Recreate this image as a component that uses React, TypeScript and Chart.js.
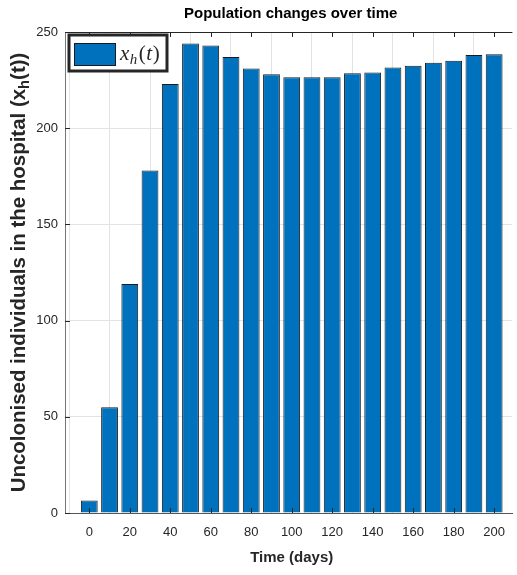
import React, { useEffect, useRef } from "react";
import { Chart, registerables } from "chart.js";

Chart.register(...registerables);

const times: number[] = [0, 10, 20, 30, 40, 50, 60, 70, 80, 90, 100, 110, 120, 130, 140, 150, 160, 170, 180, 190, 200];
const uncolonised: number[] = [6.5, 55, 119, 178, 223, 244, 243, 237, 231, 228, 226.5, 226.5, 226.5, 228.5, 229, 231.5, 232.5, 234, 235, 238, 238.5];
const xTickValues: number[] = [0, 20, 40, 60, 80, 100, 120, 140, 160, 180, 200];
const yTickValues: number[] = [0, 50, 100, 150, 200, 250];

const titleText = "Population changes over time";
const xTitleText = "Time (days)";
const yTitleMain = "Uncolonised individuals in the hospital (x";
const yTitleSub = "h";
const yTitleEnd = "(t))";

const BAR_COLOR = "#0072BD";
const TEXT_COLOR = "#262626";

const decorPlugin = {
  id: "decor",
  afterDatasetsDraw(chart: any) {
    const { ctx, chartArea } = chart;
    const { left, right, top, bottom } = chartArea;
    const xs = chart.scales.x;
    const ys = chart.scales.y;
    ctx.save();
    // frame top line
    ctx.strokeStyle = "#262626";
    ctx.lineWidth = 1;
    ctx.beginPath();
    ctx.moveTo(left, top + 0.5);
    ctx.lineTo(right, top + 0.5);
    ctx.stroke();
    // inward tick marks
    xTickValues.forEach((v) => {
      const px = Math.round(xs.getPixelForValue(v)) + 0.5;
      ctx.beginPath();
      ctx.moveTo(px, top);
      ctx.lineTo(px, top + 5);
      ctx.moveTo(px, bottom);
      ctx.lineTo(px, bottom - 5);
      ctx.stroke();
    });
    yTickValues.forEach((v) => {
      const py = Math.round(ys.getPixelForValue(v)) + 0.5;
      ctx.beginPath();
      ctx.moveTo(left, py);
      ctx.lineTo(left + 5, py);
      ctx.stroke();
    });

    // legend box
    const bx = 69, by = 35, bw = 98, bh = 36;
    ctx.fillStyle = "#ffffff";
    ctx.fillRect(bx, by, bw, bh);
    ctx.lineWidth = 3;
    ctx.strokeStyle = "#262626";
    ctx.strokeRect(bx, by, bw, bh);
    ctx.fillStyle = BAR_COLOR;
    ctx.fillRect(74.5, 43.5, 41, 22);
    ctx.lineWidth = 1;
    ctx.strokeStyle = "#1a1a1a";
    ctx.strokeRect(74.5, 43.5, 41, 22);
    ctx.fillStyle = TEXT_COLOR;
    ctx.textBaseline = "alphabetic";
    ctx.textAlign = "left";
    let tx = 120;
    const base = 60;
    ctx.font = 'italic 21px "Liberation Serif"';
    ctx.fillText("x", tx, base);
    tx += ctx.measureText("x").width + 0.5;
    ctx.font = 'italic 15px "Liberation Serif"';
    ctx.fillText("h", tx, base + 4);
    tx += ctx.measureText("h").width + 1.5;
    ctx.font = '21px "Liberation Serif"';
    ctx.fillText("(", tx, base);
    tx += ctx.measureText("(").width + 0.5;
    ctx.font = 'italic 21px "Liberation Serif"';
    ctx.fillText("t", tx, base);
    tx += ctx.measureText("t").width + 0.5;
    ctx.font = '21px "Liberation Serif"';
    ctx.fillText(")", tx, base);

    // title
    const cx = (left + right) / 2;
    ctx.fillStyle = "#000000";
    ctx.textAlign = "center";
    ctx.textBaseline = "middle";
    ctx.font = 'bold 15px "Liberation Sans"';
    ctx.fillText(titleText, cx + 2, 14);
    // x title
    ctx.fillStyle = TEXT_COLOR;
    ctx.font = 'bold 15px "Liberation Sans"';
    ctx.fillText(xTitleText, cx + 3, 558);

    // y title (rotated) with subscript, sized to span ~440px
    const cy = (top + bottom) / 2;
    ctx.translate(18, cy);
    ctx.rotate(-Math.PI / 2);
    const measure = (size: number) => {
      ctx.font = `bold ${size}px "Liberation Sans"`;
      const a = ctx.measureText(yTitleMain).width;
      const c = ctx.measureText(yTitleEnd).width;
      ctx.font = `bold ${size * 0.72}px "Liberation Sans"`;
      const b = ctx.measureText(yTitleSub).width;
      return [a, b, c];
    };
    const m0 = measure(15);
    const size = (15 * 440) / (m0[0] + m0[1] + m0[2]);
    const [w1, w2, w3] = measure(size);
    const mainFont = `bold ${size}px "Liberation Sans"`;
    const subFont = `bold ${size * 0.72}px "Liberation Sans"`;
    let sx = -(w1 + w2 + w3) / 2;
    ctx.textAlign = "left";
    ctx.textBaseline = "alphabetic";
    ctx.font = mainFont;
    ctx.fillText(yTitleMain, sx, size * 0.36);
    sx += w1;
    ctx.font = subFont;
    ctx.fillText(yTitleSub, sx, size * 0.36 + 4);
    sx += w2;
    ctx.font = mainFont;
    ctx.fillText(yTitleEnd, sx, size * 0.36);
    ctx.restore();
  },
};

export default function App() {
  const canvasRef = useRef<HTMLCanvasElement | null>(null);

  useEffect(() => {
    document.body.style.margin = "0";
    const canvas = canvasRef.current;
    if (!canvas) return;
    const chart = new Chart(canvas, {
      type: "bar",
      data: {
        datasets: [
          {
            label: "x_h(t)",
            data: times.map((t, i) => ({ x: t, y: uncolonised[i] })),
            backgroundColor: BAR_COLOR,
            borderColor: "#1a1a1a",
            borderWidth: 1,
            barPercentage: 0.83,
            categoryPercentage: 1,
          },
        ],
      },
      options: {
        animation: false,
        responsive: false,
        devicePixelRatio: 1,
        layout: { padding: { left: 0, right: 0, top: 32, bottom: 0 } },
        plugins: {
          legend: { display: false },
          title: { display: false },
          tooltip: { enabled: false },
        },
        scales: {
          x: {
            type: "linear",
            min: -12,
            max: 209,
            offset: false,
            afterBuildTicks: (scale: any) => {
              scale.ticks = xTickValues.map((v) => ({ value: v }));
            },
            afterFit: (scale: any) => {
              scale.height = 62;
            },
            grid: { color: "#e3e3e3", drawTicks: false, lineWidth: 1 },
            border: { color: "#555555", width: 1 },
            ticks: {
              color: TEXT_COLOR,
              font: { family: "Liberation Sans", size: 13 },
              padding: 12,
              maxRotation: 0,
              autoSkip: false,
            },
          },
          y: {
            min: 0,
            max: 250,
            afterBuildTicks: (scale: any) => {
              scale.ticks = yTickValues.map((v) => ({ value: v }));
            },
            afterFit: (scale: any) => {
              scale.width = 65;
            },
            grid: { color: "#e3e3e3", drawTicks: false, lineWidth: 1 },
            border: { color: "#777777", width: 1 },
            ticks: {
              color: TEXT_COLOR,
              font: { family: "Liberation Sans", size: 13 },
              padding: 7,
            },
          },
        },
      },
      plugins: [decorPlugin],
    });
    return () => chart.destroy();
  }, []);

  return (
    <div style={{ width: 517, height: 575 }}>
      <canvas ref={canvasRef} width={517} height={575} style={{ display: "block", width: 517, height: 575 }} />
    </div>
  );
}
